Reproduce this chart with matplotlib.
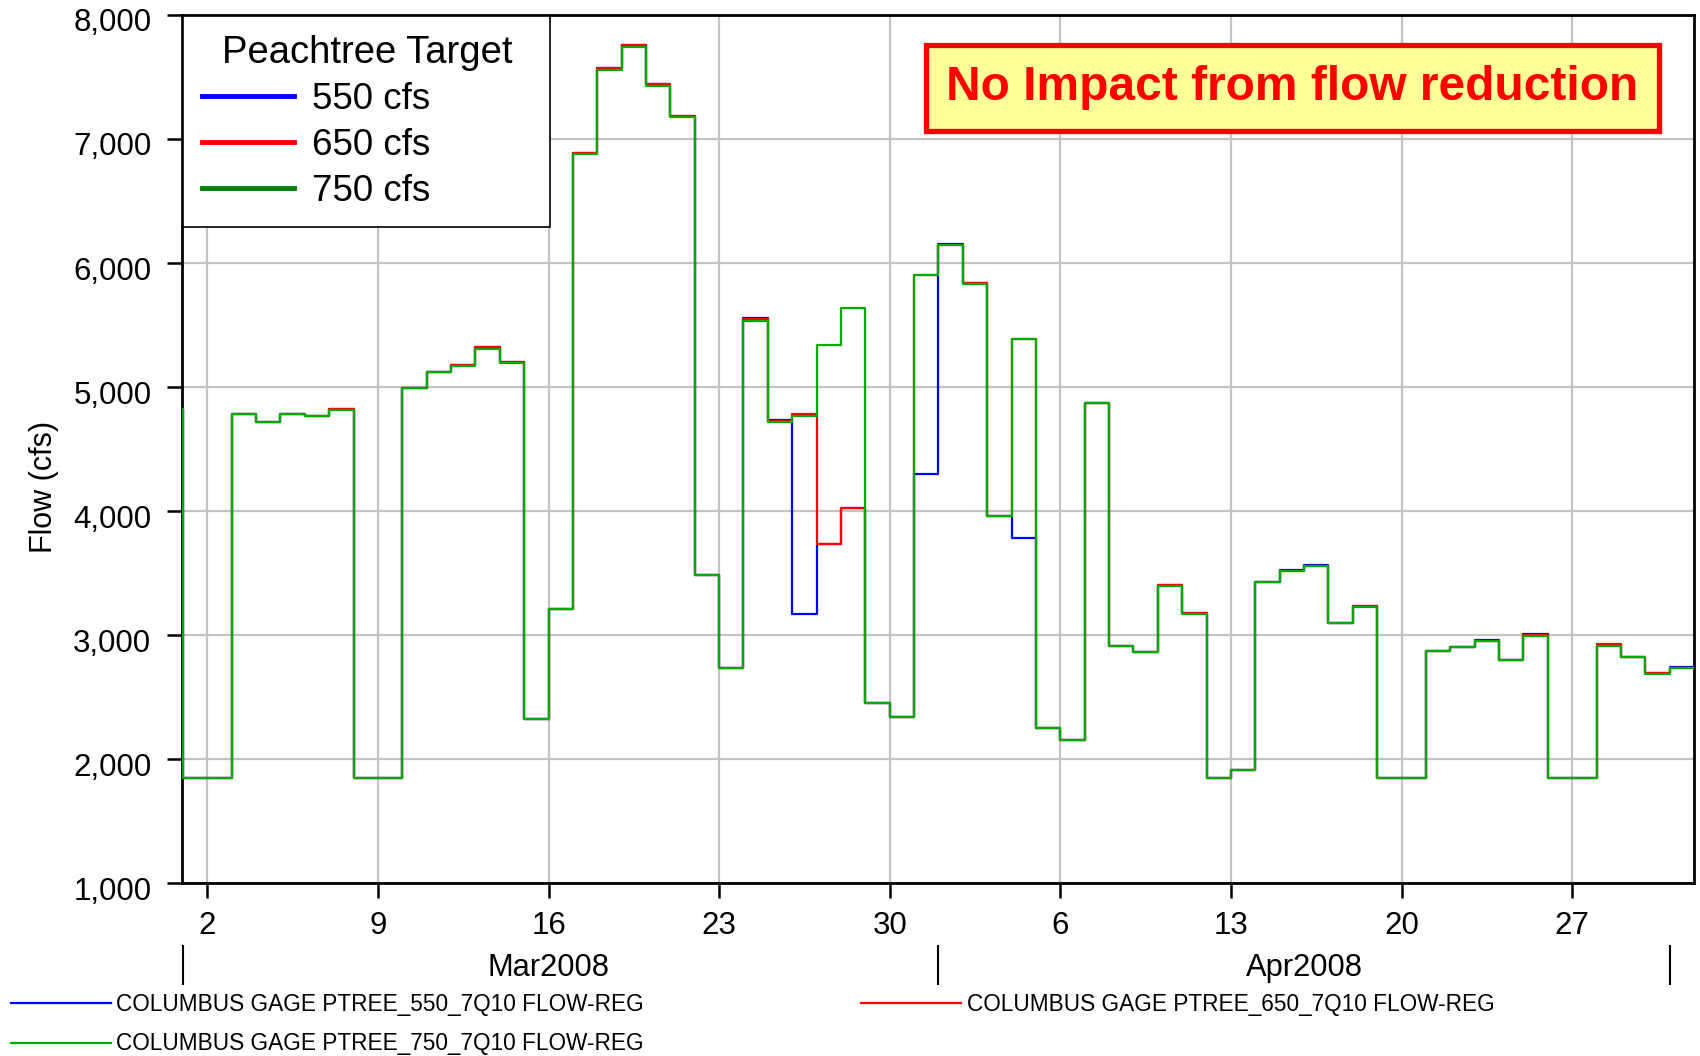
import matplotlib
matplotlib.use("Agg")
import matplotlib.pyplot as plt
import matplotlib.dates as mdates
import matplotlib.transforms as mtransforms
from matplotlib.lines import Line2D
from matplotlib.ticker import FuncFormatter, MultipleLocator
import pandas as pd

plt.rcParams["font.family"] = ["Liberation Sans", "DejaVu Sans"]

# daily flows, Feb 29 .. May 1 2008 (cfs)
dates = pd.date_range("2008-02-29", "2008-05-01", freq="D")

flow_550 = [4820,
            1850, 1850, 4780, 4715, 4785, 4765, 4820, 1850, 1850, 4995,
            5125, 5175, 5320, 5205, 2320, 3210, 6890, 7570, 7755, 7440,
            7185, 3485, 2735, 5555, 4730, 3170, 3730, 4025, 2455, 2335,
            4300,
            6150, 5835, 3960, 3785, 2250, 2150, 4870, 2915, 2860, 3400,
            3175, 1850, 1915, 3430, 3525, 3565, 3095, 3230, 1850, 1850,
            2870, 2905, 2960, 2800, 3005, 1850, 1850, 2920, 2825, 2690,
            2745]

flow_650 = [4820,
            1850, 1850, 4785, 4715, 4785, 4765, 4825, 1850, 1850, 4995,
            5125, 5175, 5320, 5200, 2320, 3210, 6885, 7575, 7760, 7440,
            7185, 3485, 2735, 5545, 4725, 4780, 3730, 4025, 2455, 2335,
            5900,
            6145, 5835, 3960, 5390, 2250, 2150, 4870, 2915, 2860, 3400,
            3175, 1850, 1915, 3430, 3520, 3560, 3095, 3235, 1850, 1850,
            2870, 2900, 2955, 2800, 3000, 1850, 1850, 2930, 2825, 2690,
            2735]

flow_750 = [4820,
            1850, 1850, 4780, 4715, 4780, 4765, 4815, 1850, 1850, 4995,
            5120, 5170, 5310, 5195, 2320, 3210, 6880, 7560, 7745, 7430,
            7175, 3485, 2735, 5535, 4715, 4765, 5340, 5640, 2455, 2335,
            5900,
            6145, 5830, 3960, 5385, 2250, 2150, 4870, 2915, 2860, 3395,
            3170, 1850, 1915, 3425, 3520, 3560, 3095, 3225, 1850, 1850,
            2870, 2900, 2955, 2795, 2995, 1850, 1850, 2915, 2820, 2685,
            2730]

series_labels = ["COLUMBUS GAGE PTREE_550_7Q10 FLOW-REG",
                 "COLUMBUS GAGE PTREE_650_7Q10 FLOW-REG",
                 "COLUMBUS GAGE PTREE_750_7Q10 FLOW-REG"]
target_labels = ["550 cfs", "650 cfs", "750 cfs"]
months = ["Mar2008", "Apr2008"]
month_edges = pd.to_datetime(["2008-03-01", "2008-04-01", "2008-05-01"])
month_label_pos = pd.to_datetime(["2008-03-16", "2008-04-16"])

colors = ["#0000ff", "#ff0000", "#00aa00"]


def main():
    fig = plt.figure(figsize=(17, 10.56), dpi=100)
    ax = fig.add_axes([0.107, 0.1638, 0.8895, 0.822])

    # extend the last step to the end of May 1
    x = list(dates) + [dates[-1] + pd.Timedelta(days=1)]
    for vals, c in zip([flow_550, flow_650, flow_750], colors):
        ax.plot(x, vals + [vals[-1]], drawstyle="steps-post", color=c,
                lw=1.6, zorder=3)

    # start a touch before Mar 1 so the first drop shows on the left edge
    ax.set_xlim(pd.Timestamp("2008-02-29 23:00"), pd.Timestamp("2008-05-02"))
    ax.set_ylim(1000, 8000)
    ax.yaxis.set_major_locator(MultipleLocator(1000))
    ax.yaxis.set_major_formatter(FuncFormatter(lambda v, p: f"{int(v):,}"))
    ax.xaxis.set_major_locator(mdates.WeekdayLocator(byweekday=mdates.SU))
    ax.xaxis.set_major_formatter(
        FuncFormatter(lambda v, p: str(mdates.num2date(v).day)))

    ax.grid(True, color="#c4c4c4", lw=1.6)
    ax.set_axisbelow(True)
    for s in ax.spines.values():
        s.set_linewidth(2)
    ax.tick_params(axis="both", labelsize=22.5, length=11, width=1.8,
                   direction="out")
    ax.tick_params(axis="x", pad=9)
    ax.tick_params(axis="y", pad=11)
    shift = mtransforms.ScaledTranslation(0, -5 / 100, fig.dpi_scale_trans)
    for lab in ax.get_yticklabels():
        lab.set_transform(lab.get_transform() + shift)

    ax.set_ylabel("Flow (cfs)", fontsize=22)
    ax.yaxis.set_label_coords(-0.081, 0.456)

    # month band below the day labels
    trans = mtransforms.blended_transform_factory(ax.transData, ax.transAxes)
    for d in month_edges:
        ax.plot([d, d], [-0.073, -0.116], transform=trans, color="black",
                lw=1.5, clip_on=False)
    for pos, m in zip(month_label_pos, months):
        ax.text(pos, -0.0975, m, transform=trans, ha="center", va="center",
                fontsize=22.2)

    # target legend
    handles = [Line2D([], [], color=c, lw=3.5)
               for c in ["#0000ff", "#ff0000", "#008000"]]
    leg = ax.legend(handles, target_labels, title="Peachtree Target",
                    loc="upper left", bbox_to_anchor=(0.001, 0.5, 0.2427, 0.4985),
                    mode="expand", borderaxespad=0, fontsize=26.5,
                    title_fontsize=27.5, handlelength=2.5, handletextpad=0.5,
                    labelspacing=0.3, borderpad=0.5, fancybox=False,
                    edgecolor="black", framealpha=1)
    leg.get_frame().set_linewidth(1.2)

    ax.text(0.7345, 0.916, "No Impact from flow reduction",
            transform=ax.transAxes, ha="center", va="center", fontsize=34.5,
            fontweight="bold", color="red",
            bbox=dict(boxstyle="square,pad=0.42", fc="#ffff99", ec="red",
                      lw=3.8))

    # series legend at bottom of the figure
    sh = [Line2D([], [], color=c, lw=1.6) for c in colors]
    fig.legend([sh[0], sh[2], sh[1]],
               [series_labels[0], series_labels[2], series_labels[1]],
               loc="upper left", bbox_to_anchor=(0.0065, 0.0595), ncol=2,
               frameon=False, fontsize=16.3, handlelength=4.4,
               handletextpad=0.25, columnspacing=9.6, labelspacing=0.72,
               borderaxespad=0, borderpad=0)

    fig.savefig("out.png", dpi=100)


if __name__ == "__main__":
    main()
